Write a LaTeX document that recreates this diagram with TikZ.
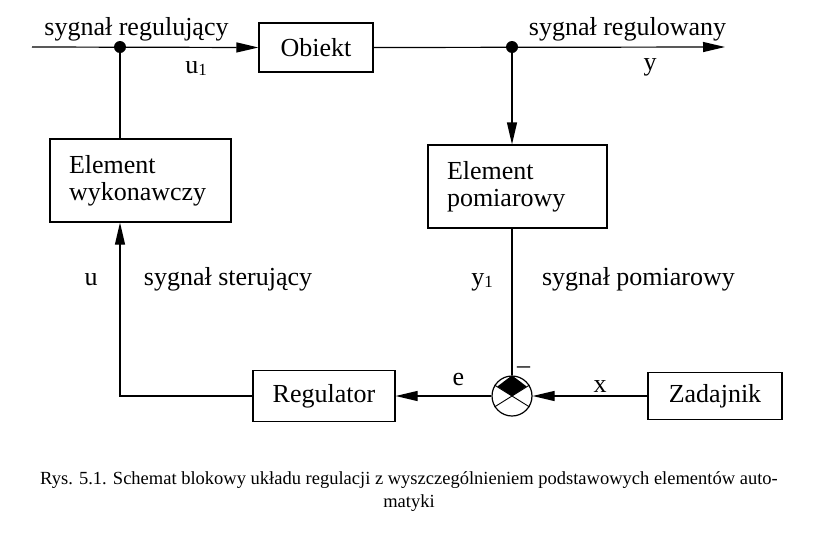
\documentclass[tikz,border=0pt]{standalone}
\usepackage{fontspec}
\setmainfont{Liberation Serif}
\usetikzlibrary{arrows.meta, calc}
\newcommand{\duzy}{\fontsize{26}{27}\selectfont}
\newcommand{\indeks}[1]{\raisebox{-0.25ex}{\fontsize{17}{17}\selectfont #1}}

\begin{document}
\begin{tikzpicture}[x=1pt, y=-1pt, line width=1.2pt,
    blok/.style={draw, rectangle, inner sep=0pt, font=\duzy},
    opis/.style={anchor=base, inner sep=0pt, font=\duzy},
    strz/.style={-{Triangle[length=22pt, width=10pt]}}]
    % pixel grid, y pointing down
    \useasboundingbox (0,0) rectangle (815,536);

    % Blocks
    \node[blok, minimum width=114pt, minimum height=49pt] (obiekt) at (316,47.5) {Obiekt};
    \node[blok, minimum width=181pt, minimum height=83pt, align=left, text width=143pt]
        (wykon) at (140.5,180.5) {Element\\wykonawczy};
    \node[blok, minimum width=179pt, minimum height=83pt, align=left, text width=141pt]
        (pomiar) at (517.5,186.5) {Element\\pomiarowy};
    \node[blok, minimum width=142pt, minimum height=51pt] (regulator) at (324,396) {Regulator};
    \node[blok, minimum width=134pt, minimum height=47pt] (zadajnik) at (715,396) {Zadajnik};

    % Summing point
    \node[draw, circle, minimum size=40pt, inner sep=0pt] (suma) at (512,396) {};
    \fill (suma.center) -- ($(suma.center)!0.85!(suma.33)$) -- (suma.north)
        -- ($(suma.center)!0.85!(suma.147)$) -- cycle;
    \draw[line width=0.9pt] (suma.32) -- (suma.212);
    \draw[line width=0.9pt] (suma.148) -- (suma.328);

    % Branch points and free ends
    \coordinate (wej) at (32,47);
    \coordinate (w1) at (120,47);
    \coordinate (w2) at (512,47);
    \coordinate (wyj) at (725,47);
    \coordinate (zal) at (120,396);

    % Connectors
    \draw[strz] (wej) -- (obiekt.west);
    \draw[strz] (obiekt.east) -- (wyj);
    \draw (w1) -- (w1 |- wykon.north);
    \draw[strz] (w2) -- (w2 |- pomiar.north);
    \draw (suma |- pomiar.south) -- (suma.north);
    \draw[strz] (zadajnik.west) -- (suma.east);
    \draw[strz] (suma.west) -- (regulator.east);
    \draw[strz] (regulator.west) -- (zal) -- (zal |- wykon.south);
    \fill (w1) circle (6pt);
    \fill (w2) circle (6pt);

    % Signal labels
    \node[opis] (l1) at (136.5,35) {sygnał regulujący};
    \node[opis] (l2) at (196,73) {u\indeks{1}};
    \node[opis] (l3) at (627.5,35) {sygnał regulowany};
    \node[opis] (l4) at (650,70) {y};
    \node[opis] (l5) at (91,285) {u};
    \node[opis] (l6) at (228,285) {sygnał sterujący};
    \node[opis] (l7) at (482,285) {y\indeks{1}};
    \node[opis] (l8) at (638.5,285) {sygnał pomiarowy};
    \node[opis] (l9) at (458.5,385) {e};
    \node[opis] (l10) at (600,392) {x};
    \node[opis] (l11) at (523.5,373) {–};

    % Caption
    \node[anchor=north, inner sep=0pt, align=center, font=\fontsize{18.5}{23}\selectfont]
        (podpis) at (409,471) {Rys. 5.1. Schemat blokowy układu regulacji z wyszczególnieniem podstawowych elementów auto-\\matyki};
\end{tikzpicture}
\end{document}
